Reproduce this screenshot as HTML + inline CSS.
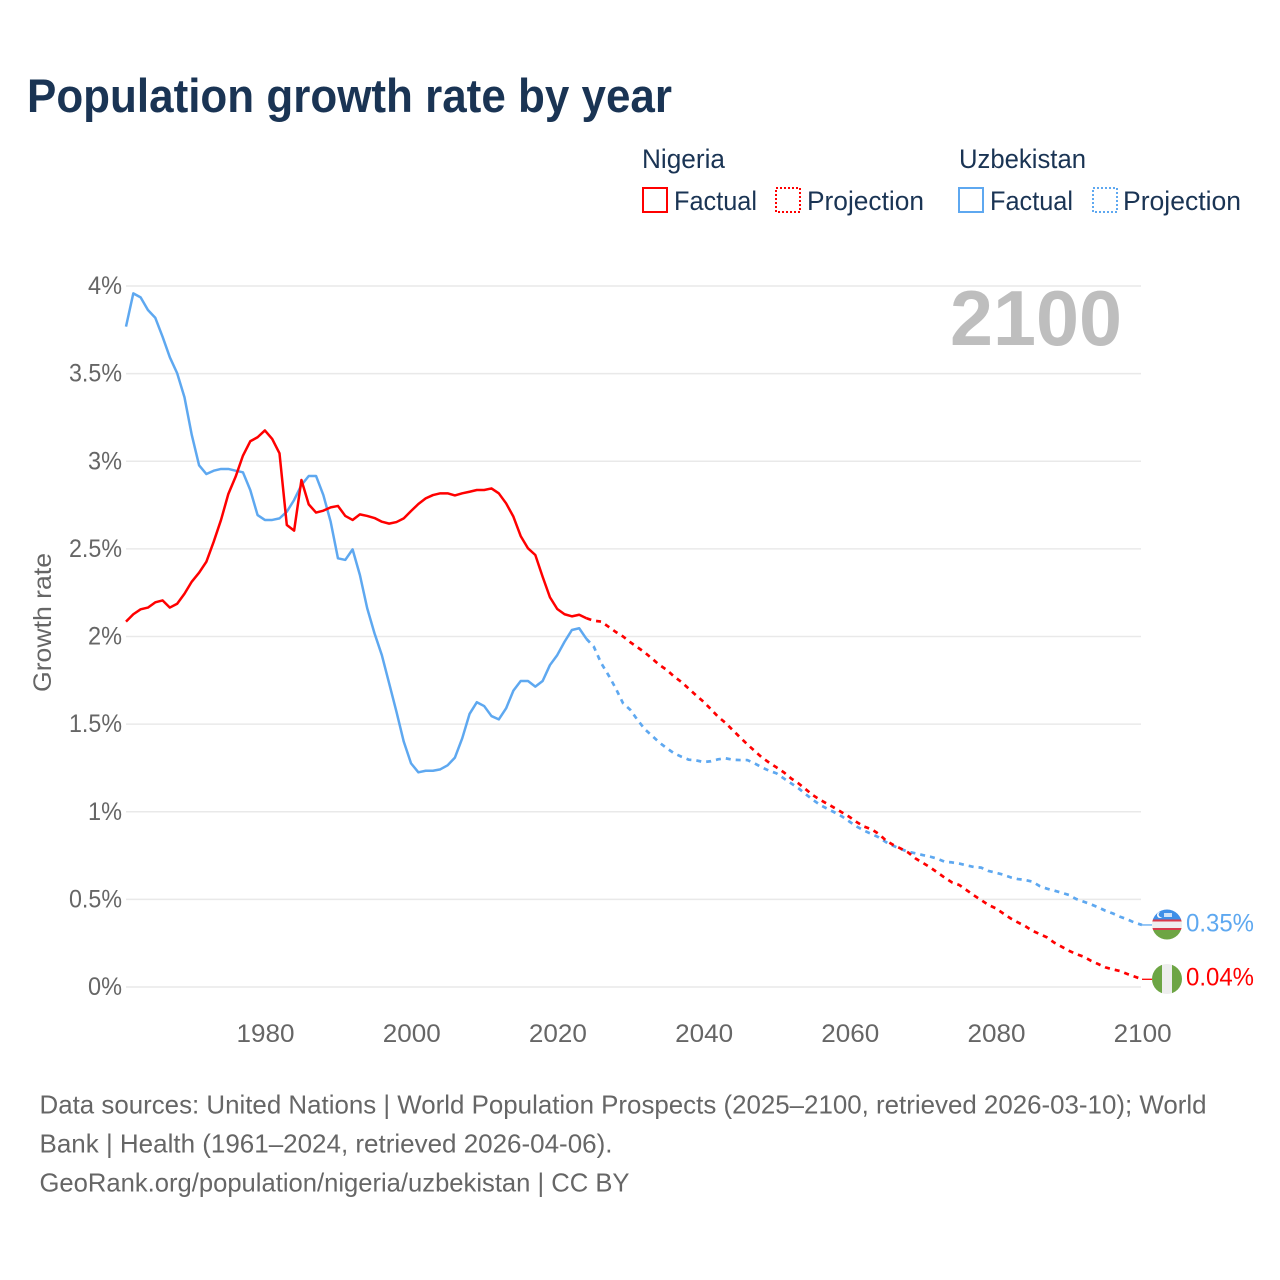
<!DOCTYPE html>
<html lang="en">
<head>
<meta charset="utf-8">
<title>Population growth rate by year</title>
<style>
html,body{margin:0;padding:0;background:#fff;width:1280px;height:1280px;overflow:hidden}
svg{display:block;font-family:"Liberation Sans",Arial,sans-serif}
</style>
</head>
<body>
<svg id="chart" xmlns="http://www.w3.org/2000/svg" width="1280" height="1280" viewBox="0 0 1280 1280">
  <defs>
    <clipPath id="clip-uz"><circle cx="1167" cy="924.5" r="15"/></clipPath>
    <clipPath id="clip-ng"><circle cx="1167" cy="979" r="15"/></clipPath>
  </defs>
  <text x="27" y="112" font-size="47" font-weight="700" fill="#1a3454" textLength="645" lengthAdjust="spacingAndGlyphs">Population growth rate by year</text>

  <g font-size="26.5" fill="#1a3454">
    <text x="642" y="168" textLength="83" lengthAdjust="spacingAndGlyphs">Nigeria</text>
    <rect x="643" y="188" width="24" height="24" fill="none" stroke="#ff0000" stroke-width="2"/>
    <text x="674" y="210" textLength="83" lengthAdjust="spacingAndGlyphs">Factual</text>
    <rect x="776" y="188" width="24" height="24" fill="none" stroke="#ff0000" stroke-width="2" stroke-dasharray="2 2"/>
    <text x="807" y="210" textLength="117" lengthAdjust="spacingAndGlyphs">Projection</text>
    <text x="959" y="168" textLength="127" lengthAdjust="spacingAndGlyphs">Uzbekistan</text>
    <rect x="959" y="188" width="24" height="24" fill="none" stroke="#5ea8f0" stroke-width="2"/>
    <text x="990" y="210" textLength="83" lengthAdjust="spacingAndGlyphs">Factual</text>
    <rect x="1093" y="188" width="24" height="24" fill="none" stroke="#5ea8f0" stroke-width="2" stroke-dasharray="2 2"/>
    <text x="1123" y="210" textLength="118" lengthAdjust="spacingAndGlyphs">Projection</text>
  </g>

  <g id="grid"></g>
  <g id="yticks" font-size="25" fill="#666666" text-anchor="end"></g>
  <g id="xticks" font-size="25" fill="#666666" text-anchor="middle"></g>
  <text transform="translate(51 692) rotate(-90)" font-size="25" fill="#666666" textLength="139" lengthAdjust="spacingAndGlyphs">Growth rate</text>
  <text x="1122" y="345" text-anchor="end" font-size="78" font-weight="700" fill="#bebebe" textLength="172" lengthAdjust="spacingAndGlyphs">2100</text>

  <g id="series"></g>

  <g clip-path="url(#clip-uz)">
    <rect x="1152" y="909" width="30" height="10.500" fill="#3f8fe8"/>
    <rect x="1152" y="919.500" width="30" height="2" fill="#d93a4a"/>
    <rect x="1152" y="921.500" width="30" height="6.500" fill="#eeeeee"/>
    <rect x="1152" y="928" width="30" height="2" fill="#d93a4a"/>
    <rect x="1152" y="930" width="30" height="10" fill="#6da544"/>
    <circle cx="1160" cy="915" r="3" fill="#ffffff"/>
    <circle cx="1161.300" cy="914.500" r="2.700" fill="#3f8fe8"/>
    <rect x="1164" y="913" width="8" height="4" fill="#cfe3f9"/>
  </g>
  <g clip-path="url(#clip-ng)">
    <rect x="1152" y="964" width="10" height="30" fill="#6da544"/>
    <rect x="1162" y="964" width="10" height="30" fill="#eeeeee"/>
    <rect x="1172" y="964" width="10" height="30" fill="#6da544"/>
  </g>
  <text x="1186" y="931.500" font-size="25" fill="#5ea8f0" textLength="68" lengthAdjust="spacingAndGlyphs">0.35%</text>
  <text x="1186" y="985.500" font-size="25" fill="#ff0000" textLength="68" lengthAdjust="spacingAndGlyphs">0.04%</text>

  <g font-size="26" fill="#666666">
    <text x="39.500" y="1113.500" textLength="1167" lengthAdjust="spacingAndGlyphs">Data sources: United Nations | World Population Prospects (2025–2100, retrieved 2026-03-10); World</text>
    <text x="39.500" y="1152.500" textLength="573" lengthAdjust="spacingAndGlyphs">Bank | Health (1961–2024, retrieved 2026-04-06).</text>
    <text x="39.500" y="1191.500" textLength="590" lengthAdjust="spacingAndGlyphs">GeoRank.org/population/nigeria/uzbekistan | CC BY</text>
  </g>
</svg>
<script>
const firstYear = 1961;
const lastFactualYear = 2024;
const lastYear = 2100;
const yTickValues = [0, 0.5, 1, 1.5, 2, 2.5, 3, 3.5, 4];
const yTickLabels = ["0%", "0.5%", "1%", "1.5%", "2%", "2.5%", "3%", "3.5%", "4%"];
const xTickValues = [1980, 2000, 2020, 2040, 2060, 2080, 2100];
const xTickLabels = ["1980", "2000", "2020", "2040", "2060", "2080", "2100"];

// Growth rate (%) per year, 1961 through 2024
const nigeriaFactual = [2.085,2.127,2.155,2.165,2.195,2.206,2.165,2.187,2.244,2.313,2.364,2.427,2.541,2.665,2.813,2.912,3.032,3.114,3.137,3.176,3.127,3.045,2.636,2.604,2.893,2.754,2.707,2.718,2.737,2.745,2.688,2.665,2.697,2.688,2.676,2.655,2.644,2.653,2.674,2.716,2.756,2.788,2.807,2.817,2.817,2.805,2.817,2.826,2.836,2.836,2.845,2.817,2.76,2.684,2.573,2.503,2.465,2.341,2.224,2.157,2.127,2.115,2.124,2.104];
const uzbekistanFactual = [3.768,3.958,3.935,3.863,3.819,3.711,3.593,3.502,3.365,3.15,2.977,2.927,2.946,2.956,2.956,2.946,2.937,2.836,2.693,2.665,2.665,2.674,2.712,2.779,2.864,2.916,2.916,2.807,2.655,2.446,2.437,2.497,2.351,2.161,2.018,1.894,1.733,1.571,1.4,1.276,1.225,1.234,1.234,1.242,1.265,1.309,1.419,1.558,1.625,1.603,1.546,1.527,1.59,1.691,1.746,1.746,1.714,1.746,1.837,1.894,1.97,2.037,2.047,1.986];

// Growth rate (%) per year, 2025 through 2100
const nigeriaProjection = [2.09,2.085,2.056,2.026,2.0,1.967,1.938,1.908,1.873,1.837,1.809,1.771,1.74,1.702,1.664,1.628,1.586,1.542,1.508,1.466,1.425,1.385,1.347,1.31,1.28,1.253,1.225,1.19,1.162,1.128,1.094,1.067,1.044,1.02,0.995,0.97,0.94,0.915,0.9,0.873,0.835,0.81,0.79,0.768,0.734,0.709,0.683,0.654,0.624,0.597,0.582,0.553,0.523,0.496,0.468,0.449,0.42,0.392,0.369,0.348,0.321,0.302,0.283,0.253,0.23,0.207,0.188,0.173,0.15,0.131,0.112,0.101,0.091,0.074,0.059,0.044];
const uzbekistanProjection = [1.942,1.849,1.78,1.704,1.619,1.581,1.523,1.47,1.432,1.394,1.362,1.333,1.314,1.297,1.293,1.284,1.288,1.299,1.305,1.297,1.295,1.295,1.276,1.253,1.234,1.219,1.19,1.162,1.134,1.1,1.067,1.038,1.016,0.995,0.972,0.943,0.915,0.892,0.873,0.854,0.826,0.805,0.787,0.772,0.763,0.753,0.744,0.732,0.715,0.711,0.704,0.694,0.685,0.681,0.662,0.652,0.641,0.626,0.616,0.611,0.601,0.576,0.561,0.55,0.538,0.525,0.502,0.487,0.472,0.455,0.435,0.42,0.401,0.386,0.367,0.354];

const NS = "http://www.w3.org/2000/svg";
const xLeft = 126, xRight = 1142, yZero = 987, yTop = 286, yMaxVal = 4;

function xScale(year) {
  return xLeft + (year - firstYear) * (xRight - xLeft) / (lastYear - firstYear);
}
function yScale(v) {
  return yZero - v * (yZero - yTop) / yMaxVal;
}
function tickLabelWidth(label) {
  return label.length > 2 ? 53 : 34;
}
function linePath(startYear, values) {
  return values.map(function (v, i) {
    return (i ? "L" : "M") + xScale(startYear + i).toFixed(2) + " " + yScale(v).toFixed(2);
  }).join(" ");
}

const grid = document.getElementById("grid");
yTickValues.forEach(function (v) {
  const ln = document.createElementNS(NS, "line");
  
  
  ln.setAttribute("x1", xLeft);
  ln.setAttribute("x2", xRight - 1);
  ln.setAttribute("y1", yScale(v));
  ln.setAttribute("y2", yScale(v));
  ln.setAttribute("stroke", "#e9e9e9");
  ln.setAttribute("stroke-width", "1.5");
  grid.appendChild(ln);
});

const yticks = document.getElementById("yticks");
yTickValues.forEach(function (v, i) {
  const t = document.createElementNS(NS, "text");
  
  
  t.setAttribute("x", 122);
  t.setAttribute("y", yScale(v) + 8);
  t.setAttribute("textLength", tickLabelWidth(yTickLabels[i]));
  t.setAttribute("lengthAdjust", "spacingAndGlyphs");
  t.textContent = yTickLabels[i];
  yticks.appendChild(t);
});

const xticks = document.getElementById("xticks");
xTickValues.forEach(function (year, i) {
  const t = document.createElementNS(NS, "text");
  
  
  t.setAttribute("x", xScale(year) + 0.7);
  t.setAttribute("y", 1042);
  t.setAttribute("textLength", 58);
  t.setAttribute("lengthAdjust", "spacingAndGlyphs");
  t.textContent = xTickLabels[i];
  xticks.appendChild(t);
});

const series = document.getElementById("series");
function addLine(name, d, color, width, dash) {
  const p = document.createElementNS(NS, "path");
  
  
  p.setAttribute("d", d);
  p.setAttribute("fill", "none");
  p.setAttribute("stroke", color);
  p.setAttribute("stroke-width", width);
  p.setAttribute("stroke-linejoin", "round");
  if (dash) p.setAttribute("stroke-dasharray", dash);
  series.appendChild(p);
}
function lastOf(a) { return a[a.length - 1]; }
function connector(projection) {
  const y = yScale(lastOf(projection));
  return "M" + xScale(lastYear) + " " + y + " L1152 " + y;
}
const blue = "#5ea8f0", red = "#ff0000";
addLine('uzbekistan-projection-line', linePath(lastFactualYear, [lastOf(uzbekistanFactual)].concat(uzbekistanProjection)), blue, 2.7, "5 5");
addLine('uzbekistan-factual-line', linePath(firstYear, uzbekistanFactual), blue, 2.5);
addLine('uzbekistan-end-connector', connector(uzbekistanProjection), blue, 1.3);
addLine('nigeria-projection-line', linePath(lastFactualYear, [lastOf(nigeriaFactual)].concat(nigeriaProjection)), red, 2.7, "5 5");
addLine('nigeria-factual-line', linePath(firstYear, nigeriaFactual), red, 2.5);
addLine('nigeria-end-connector', connector(nigeriaProjection), red, 1.3);
</script>
</body>
</html>
